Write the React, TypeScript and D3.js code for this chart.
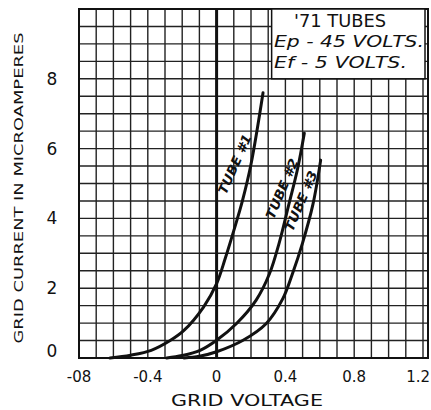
import React from "react";
import * as d3 from "d3";

const xTicks = [-0.8, -0.4, 0, 0.4, 0.8, 1.2];
const xTickLabels = ["-08", "-0.4", "0", "0.4", "0.8", "1.2"];
const yTicks = [0, 2, 4, 6, 8];
const yTickLabels = ["0", "2", "4", "6", "8"];

const tube1X = [-0.62, -0.5, -0.38, -0.27, -0.19, -0.076, 0, 0.05, 0.1, 0.15, 0.2, 0.27];
const tube1I = [0, 0.08, 0.22, 0.5, 0.79, 1.46, 2.13, 2.85, 3.65, 4.5, 5.55, 7.6];
const tube2X = [-0.29, -0.2, -0.096, 0, 0.116, 0.23, 0.308, 0.364, 0.42, 0.47, 0.51];
const tube2I = [0, 0.07, 0.22, 0.51, 0.99, 1.66, 2.42, 3.3, 4.4, 5.4, 6.44];
const tube3X = [-0.19, -0.1, 0, 0.154, 0.289, 0.385, 0.44, 0.5, 0.56, 0.605];
const tube3I = [0, 0.05, 0.18, 0.51, 0.99, 1.7, 2.4, 3.3, 4.4, 5.67];

const seriesLabels = ["TUBE #1", "TUBE #2", "TUBE #3"];
const titleLines = ["'71 TUBES", "Ep - 45 VOLTS.", "Ef - 5 VOLTS."];

export default function App() {
  const W = 431, H = 410;
  const left = 79, right = 428, top = 9, bottom = 358;
  const x = d3.scaleLinear().domain([-0.8, 1.2]).range([left, 423]);
  const y = d3.scaleLinear().domain([0, 10]).range([bottom, top]);

  const gridX = d3.range(-0.8, 1.2001, 0.1);
  const gridY = d3.range(0, 10.001, 0.5);

  const line = d3
    .line<[number, number]>()
    .x((d) => x(d[0]))
    .y((d) => y(d[1]))
    .curve(d3.curveCatmullRom.alpha(0.5));

  const series = [
    tube1X.map((v, i) => [v, tube1I[i]] as [number, number]),
    tube2X.map((v, i) => [v, tube2I[i]] as [number, number]),
    tube3X.map((v, i) => [v, tube3I[i]] as [number, number]),
  ];

  const labelPos = [
    { x: 0.13, y: 5.5, a: -66 },
    { x: 0.405, y: 4.8, a: -67 },
    { x: 0.515, y: 4.45, a: -67 },
  ];

  const boxX0 = x(0.32), boxX1 = 425, boxY0 = top, boxY1 = y(8);
  const font = "'DejaVu Sans', sans-serif";

  return (
    <svg width={W} height={H} style={{ position: "absolute", left: 0, top: 0, background: "#fff" }}>
      <rect x={0} y={0} width={W} height={H} fill="#fff" />
      {gridX.map((g, i) => (
        <line key={"gx" + i} x1={x(g)} x2={x(g)} y1={top} y2={bottom} stroke="#222" strokeWidth={1.4} />
      ))}
      {gridY.map((g, i) => (
        <line key={"gy" + i} x1={left} x2={right} y1={y(g)} y2={y(g)} stroke="#222" strokeWidth={1.4} />
      ))}
      <rect x={left} y={top} width={right - left} height={bottom - top} fill="none" stroke="#111" strokeWidth={2} />
      <line x1={x(0)} x2={x(0)} y1={top} y2={bottom} stroke="#111" strokeWidth={3} />

      <rect x={boxX0} y={boxY0} width={boxX1 - boxX0} height={boxY1 - boxY0} fill="#fff" stroke="#111" strokeWidth={1.5} />
      <text x={340} y={27} textAnchor="middle" fontFamily={font} fontSize={17} textLength={92} lengthAdjust="spacingAndGlyphs" fill="#111">
        {titleLines[0]}
      </text>
      <text x={274} y={47} fontFamily={font} fontSize={15} fontStyle="italic" textLength={150} lengthAdjust="spacingAndGlyphs" fill="#111">
        {titleLines[1]}
      </text>
      <text x={274} y={68} fontFamily={font} fontSize={15} fontStyle="italic" textLength={133} lengthAdjust="spacingAndGlyphs" fill="#111">
        {titleLines[2]}
      </text>

      {series.map((s, i) => (
        <path key={"s" + i} d={line(s) || ""} fill="none" stroke="#111" strokeWidth={3} strokeLinecap="round" />
      ))}
      {seriesLabels.map((l, i) => (
        <text
          key={"l" + i}
          transform={`translate(${x(labelPos[i].x)},${y(labelPos[i].y)}) rotate(${labelPos[i].a})`}
          textAnchor="middle"
          fontFamily={font}
          fontSize={13}
          fontStyle="italic"
          fontWeight="bold"
          textLength={64}
          lengthAdjust="spacingAndGlyphs"
          fill="#111"
        >
          {l}
        </text>
      ))}

      {xTicks.map((t, i) => (
        <text
          key={"xt" + i}
          x={i === 5 ? 430 : x(t)}
          y={382}
          textAnchor={i === 5 ? "end" : "middle"}
          fontFamily={font}
          fontSize={15}
          fill="#111"
        >
          {xTickLabels[i]}
        </text>
      ))}
      {yTicks.map((t, i) => (
        <text key={"yt" + i} x={52} y={y(t) + 6 - (i === 0 ? 7 : 0)} textAnchor="middle" fontFamily={font} fontSize={17} fill="#111">
          {yTickLabels[i]}
        </text>
      ))}
      <text x={247} y={406} textAnchor="middle" fontFamily={font} fontSize={15} textLength={152} lengthAdjust="spacingAndGlyphs" fill="#111">
        GRID VOLTAGE
      </text>
      <text
        transform={`translate(23,188) rotate(-90)`}
        textAnchor="middle"
        fontFamily={font}
        fontSize={13}
        textLength={311}
        lengthAdjust="spacingAndGlyphs"
        fill="#111"
      >
        GRID CURRENT IN MICROAMPERES
      </text>
    </svg>
  );
}
